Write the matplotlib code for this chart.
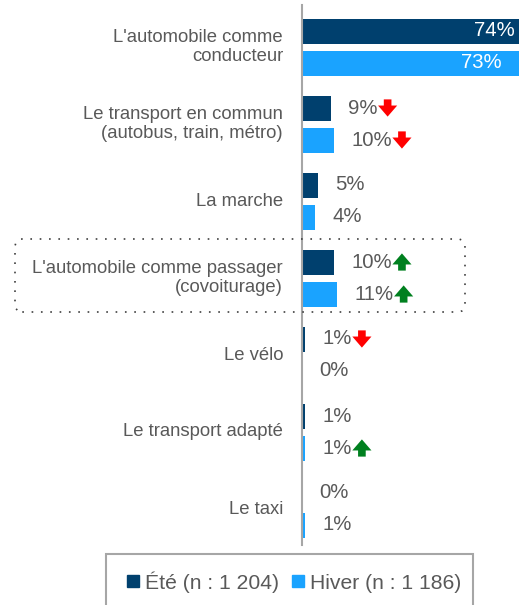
import matplotlib.pyplot as plt
from matplotlib.patches import Rectangle, FancyBboxPatch
from matplotlib.text import OffsetFrom
from matplotlib.lines import Line2D

plt.rcParams["font.family"] = ["Liberation Sans", "DejaVu Sans"]

# Data
categories = [
    "L'automobile comme\nconducteur",
    "Le transport en commun\n(autobus, train, métro)",
    "La marche",
    "L'automobile comme passager\n(covoiturage)",
    "Le vélo",
    "Le transport adapté",
    "Le taxi",
]
ete = [74, 9, 5, 10, 1, 1, 0]
hiver = [73, 10, 4, 11, 0, 1, 1]
# significant change vs. previous wave: -1 down, +1 up, 0 none
change_ete = [0, -1, 0, 1, -1, 0, 0]
change_hiver = [0, -1, 0, 1, 0, 1, 0]
legend_labels = ["Été (n : 1 204)", "Hiver (n : 1 186)"]

c_ete = "#00406E"
c_hiver = "#1AA3FF"
c_text = "#595959"

W, H = 519, 605
fig = plt.figure(figsize=(W / 100, H / 100), dpi=100)

# axes: x=0 at pixel 302, 3.2 px per percent
px0, ppp = 302, 3.2
top_px, bot_px = 5, 545
ax = fig.add_axes([px0 / W, 1 - bot_px / H, (W - px0) / W, (bot_px - top_px) / H])
ax.set_xlim(0, (W - px0) / ppp)
g0, gstep = 47, 77
ax.set_ylim((bot_px - g0) / gstep, (top_px - g0) / gstep)

for s in ["top", "right", "bottom"]:
    ax.spines[s].set_visible(False)
ax.spines["left"].set_color("#A6A6A6")
ax.spines["left"].set_linewidth(1.5)
ax.set_xticks([])
ax.set_yticks([])

off = 16 / gstep
bh = 25 / gstep
idx = range(len(categories))
ax.barh([i - off for i in idx], ete, height=bh, color=c_ete)
ax.barh([i + off for i in idx], hiver, height=bh, color=c_hiver)

arrow_style = "simple,head_length=0.55,head_width=0.95,tail_width=0.38"


def add_arrow(txt, direction):
    color = "#FF0000" if direction < 0 else "#00801F"
    ref = OffsetFrom(txt, (1, 0.5), unit="points")
    y1, y2 = (6.2, -6.2) if direction < 0 else (-6.2, 6.2)
    ax.annotate("", xy=(7, y2), xycoords=ref, xytext=(7, y1), textcoords=ref,
                arrowprops=dict(arrowstyle=arrow_style, color=color, lw=0,
                                mutation_scale=14.5, shrinkA=0, shrinkB=0))


for vals, changes, sign in [(ete, change_ete, -1), (hiver, change_hiver, 1)]:
    for i, (v, ch) in enumerate(zip(vals, changes)):
        y = i + sign * off
        if v > 50:
            t = ax.text(v - 7.5 if sign < 0 else v - 10.5, y, f"{v}%", ha="right",
                        va="center", color="white", fontsize=14.6)
        else:
            t = ax.text(v + 5.5, y, f"{v}%", ha="left", va="center",
                        color=c_text, fontsize=14.6)
        if ch:
            add_arrow(t, ch)

for i, cat in enumerate(categories):
    ax.text(-5.9, i, cat, ha="right", va="center", color=c_text, fontsize=13.3,
            linespacing=1.2, clip_on=False)

# dotted highlight around carpooling
fig.patches.append(FancyBboxPatch((15 / W, 1 - 312 / H), 450 / W, 73 / H,
                                  boxstyle="round,pad=0,rounding_size=0.014",
                                  transform=fig.transFigure, fill=False,
                                  ec="#404040", lw=1.2, ls=(0, (1, 4.6))))

# legend
fig.patches.append(Rectangle((106 / W, -0.05), 367 / W, 0.05 + (605 - 554) / H,
                             transform=fig.transFigure, fill=False,
                             ec="#A6A6A6", lw=1.5))
handles = [Line2D([], [], marker="s", ls="none", color=c, markersize=8)
           for c in (c_ete, c_hiver)]
fig.legend(handles, legend_labels, loc="center", bbox_to_anchor=(294 / W, 1 - 582 / H),
           ncol=2, frameon=False, fontsize=15.2, handlelength=0.6,
           handletextpad=0.25, columnspacing=0.6, labelcolor=c_text)

fig.savefig("out.png", dpi=100)
